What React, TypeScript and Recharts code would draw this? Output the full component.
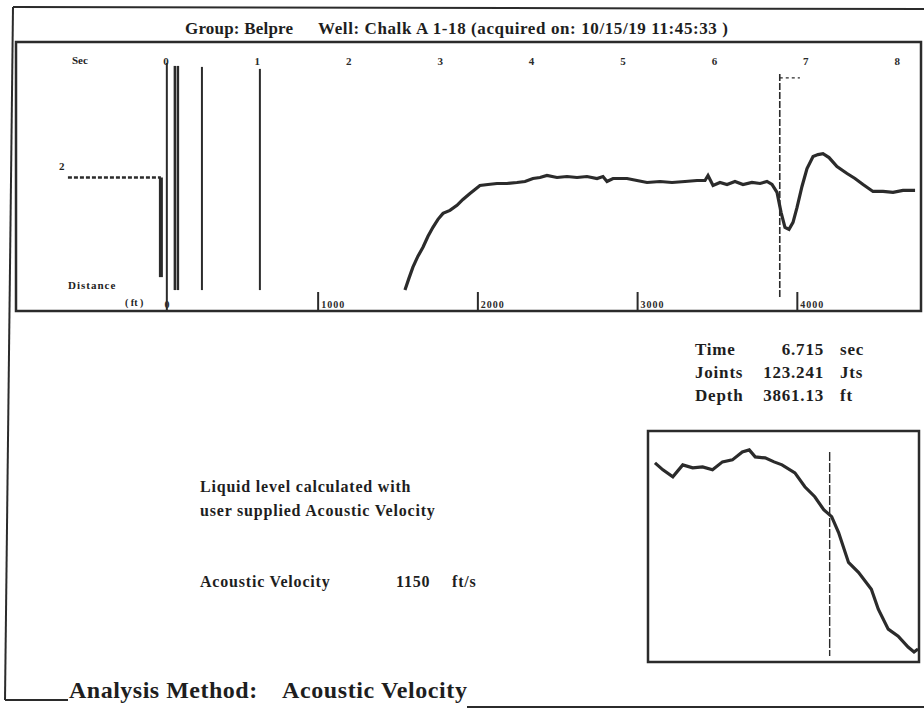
import React from 'react';
import { LineChart, Line, XAxis, YAxis, ReferenceLine } from 'recharts';

// acoustic trace (time in sec, amplitude in arbitrary units)
const traceTime = [
  2.615, 2.659, 2.702, 2.757, 2.812, 2.867, 2.921, 2.976, 3.031, 3.107, 3.184, 3.249, 3.326, 3.381, 3.435,
  3.523, 3.621, 3.731, 3.84, 3.928, 4.015, 4.092, 4.168, 4.278, 4.387, 4.497, 4.606, 4.716, 4.781, 4.825,
  4.891, 5.044, 5.153, 5.263, 5.405, 5.536, 5.678, 5.81, 5.897, 5.93, 5.985, 6.061, 6.138, 6.225, 6.313,
  6.411, 6.499, 6.575, 6.63, 6.685, 6.729, 6.772, 6.816, 6.86, 6.904, 6.958, 7.013, 7.079, 7.133, 7.188,
  7.254, 7.341, 7.451, 7.538, 7.626, 7.735, 7.845, 7.954, 8.063, 8.195,
];
const traceAmp = [
  21, 33, 44, 55, 64, 75, 84, 92, 98, 101, 106, 112, 118, 122, 126,
  127, 128, 128, 129, 130, 133, 134, 136, 134, 135, 134, 135, 133, 135, 130,
  133, 133, 131, 129, 130, 129, 130, 131, 131, 136, 126, 129, 127, 130, 127,
  129, 128, 130, 127, 119, 99, 84, 82, 89, 104, 125, 143, 155, 157, 158,
  154, 145, 138, 133, 127, 120, 120, 119, 121, 121,
];

// zoomed window around the liquid level (sample index, amplitude)
const zoomSample = [
  5, 13, 23, 33, 43, 53, 63, 73, 83, 93, 100, 106, 116, 125, 133, 146, 156, 166, 175, 183,
  190, 200, 210, 223, 230, 240, 250, 260, 266, 270,
];
const zoomAmp = [
  199, 192, 185, 197, 194, 195, 192, 200, 202, 210, 212, 205, 204, 200, 197, 189, 175, 165, 152, 145,
  129, 99, 89, 72, 52, 32, 25, 14, 9, 12,
];
const zoomMarker = 181;

const timeTicks = [0, 1, 2, 3, 4, 5, 6, 7, 8];
const depthTicks = [0, 1000, 2000, 3000, 4000];
// depth scale printed under the trace: ft per second of travel time and its zero offset
const ftPerSec = 572.3;
const depthOffset = 47;

// shot / collar marks near the start of the record: [time, top amp, bottom amp, width]
const shotMarks: [number, number, number, number][] = [
  [0.01, 249, 0, 2],
  [-0.055, 134, 34, 4],
  [0.098, 246, 21, 2.5],
  [0.131, 246, 21, 2.5],
  [0.394, 245, 21, 2],
  [1.028, 243, 21, 2],
];
const baseLevel = { from: -1.072, to: -0.055, amp: 134 };

const liquidTime = 6.715;
const joints = 123.241;
const depth = 3861.13;
const velocity = 1150;

const ink = '#2b2b2b';
const serif = '"Liberation Serif", "Times New Roman", serif';

const traceData = traceTime.map((t, i) => ({ t, a: traceAmp[i] }));
const zoomData = zoomSample.map((s, i) => ({ s, a: zoomAmp[i] }));
const depthTickTimes = depthTicks.map((d) => (d - depthOffset) / ftPerSec);

const TimeTick = (props: any) => (
  <text x={props.x} y={23} textAnchor="middle" fontSize={11} fontWeight="bold" fill={ink} fontFamily={serif}>
    {props.payload.value}
  </text>
);

const DepthTick = (props: any) => {
  const v = Math.round((props.payload.value * ftPerSec + depthOffset) / 100) * 100;
  if (v === 0) {
    return (
      <text x={props.x + 6} y={266} fontSize={10} fontWeight="bold" fill={ink} fontFamily={serif}>0</text>
    );
  }
  return (
    <g>
      <line x1={props.x} x2={props.x} y1={250} y2={269} stroke={ink} strokeWidth={2} />
      <text x={props.x + 3} y={266} fontSize={10} fontWeight="bold" letterSpacing={1} fill={ink} fontFamily={serif}>
        {v}
      </text>
    </g>
  );
};

const Txt = ({ x, y, size = 15, weight = 'bold', anchor = 'left', children, spacing = 0 }: any) => (
  <div
    style={{
      position: 'absolute',
      top: y - size / 2,
      ...(anchor === 'right' ? { right: 924 - x } : { left: x }),
      fontSize: size,
      lineHeight: `${size}px`,
      fontWeight: weight,
      fontFamily: serif,
      color: '#1e1e1e',
      whiteSpace: 'nowrap',
      letterSpacing: spacing,
    }}
  >
    {children}
  </div>
);

export default function App() {
  return (
    <div style={{ position: 'absolute', left: 0, top: 0, width: 924, height: 712, background: '#fff', overflow: 'hidden' }}>
      {/* frame lines */}
      <svg width={924} height={712} style={{ position: 'absolute', left: 0, top: 0 }}>
        <line x1={13} y1={7} x2={924} y2={9} stroke={ink} strokeWidth={2} />
        <line x1={13} y1={7} x2={5} y2={700} stroke={ink} strokeWidth={2} />
        <line x1={5} y1={700} x2={68} y2={700} stroke={ink} strokeWidth={2} />
        <line x1={467} y1={707} x2={924} y2={707} stroke={ink} strokeWidth={2} />
        <rect x={16} y={42} width={905} height={269} fill="none" stroke={ink} strokeWidth={2.5} />
        <rect x={648} y={431} width={271} height={231} fill="none" stroke={ink} strokeWidth={2.5} />
      </svg>

      <Txt x={185} y={28} size={17} spacing={0.2}>Group: Belpre</Txt>
      <Txt x={318} y={28} size={17} spacing={0.6}>Well: Chalk A 1-18 (acquired on: 10/15/19 11:45:33 )</Txt>

      <div style={{ position: 'absolute', left: 16, top: 42 }}>
        <LineChart width={905} height={270} data={traceData} margin={{ top: 0, right: 0, bottom: 0, left: 0 }}>
          <XAxis
            xAxisId="time"
            dataKey="t"
            type="number"
            orientation="top"
            domain={[-1.64, 8.26]}
            allowDataOverflow
            ticks={timeTicks}
            height={1}
            axisLine={false}
            tickLine={false}
            tick={<TimeTick />}
          />
          <XAxis
            xAxisId="depth"
            dataKey="t"
            type="number"
            orientation="bottom"
            domain={[-1.64, 8.26]}
            allowDataOverflow
            ticks={depthTickTimes}
            height={1}
            axisLine={false}
            tickLine={false}
            tick={<DepthTick />}
          />
          <YAxis type="number" domain={[0, 269]} hide />
          {shotMarks.map(([t, top, bottom, w], i) => (
            <ReferenceLine
              key={i}
              xAxisId="time"
              segment={[{ x: t, y: top }, { x: t, y: bottom }]}
              stroke={ink}
              strokeWidth={w}
            />
          ))}
          <ReferenceLine
            xAxisId="time"
            segment={[{ x: baseLevel.from, y: baseLevel.amp }, { x: baseLevel.to, y: baseLevel.amp }]}
            stroke={ink}
            strokeWidth={2.5}
            strokeDasharray="4 2"
          />
          <ReferenceLine
            xAxisId="time"
            segment={[{ x: liquidTime, y: 238 }, { x: liquidTime, y: 13 }]}
            stroke={ink}
            strokeWidth={1.6}
            strokeDasharray="7 2"
          />
          <ReferenceLine
            xAxisId="time"
            segment={[{ x: liquidTime, y: 234 }, { x: liquidTime + 0.22, y: 234 }]}
            stroke={ink}
            strokeWidth={1.2}
            strokeDasharray="3 3"
          />
          <Line
            xAxisId="time"
            type="linear"
            dataKey="a"
            stroke={ink}
            strokeWidth={3.2}
            dot={false}
            isAnimationActive={false}
          />
        </LineChart>
      </div>

      {/* small axis captions of the trace panel */}
      <Txt x={72} y={60} size={11}>Sec</Txt>
      <Txt x={68} y={285} size={11} spacing={1}>Distance</Txt>
      <Txt x={125} y={303} size={10}>( ft )</Txt>
      <Txt x={59} y={166} size={11}>2</Txt>

      <Txt x={695} y={349} size={17} spacing={0.8}>Time</Txt>
      <Txt x={824} y={349} size={17} spacing={0.8} anchor="right">{liquidTime.toFixed(3)}</Txt>
      <Txt x={840} y={349} size={17} spacing={0.8}>sec</Txt>
      <Txt x={695} y={372} size={17} spacing={0.8}>Joints</Txt>
      <Txt x={824} y={372} size={17} spacing={0.8} anchor="right">{joints.toFixed(3)}</Txt>
      <Txt x={840} y={372} size={17} spacing={0.8}>Jts</Txt>
      <Txt x={695} y={395} size={17} spacing={0.8}>Depth</Txt>
      <Txt x={824} y={395} size={17} spacing={0.8} anchor="right">{depth.toFixed(2)}</Txt>
      <Txt x={840} y={395} size={17} spacing={0.8}>ft</Txt>

      <Txt x={200} y={487} size={16} spacing={0.8}>Liquid level calculated with</Txt>
      <Txt x={200} y={511} size={16} spacing={0.8}>user supplied Acoustic Velocity</Txt>
      <Txt x={200} y={582} size={16} spacing={0.8}>Acoustic Velocity</Txt>
      <Txt x={396} y={582} size={16} spacing={0.8}>{velocity}</Txt>
      <Txt x={452} y={582} size={16} spacing={0.8}>ft/s</Txt>

      <div style={{ position: 'absolute', left: 649, top: 433 }}>
        <LineChart width={270} height={228} data={zoomData} margin={{ top: 0, right: 0, bottom: 0, left: 0 }}>
          <XAxis dataKey="s" type="number" domain={[-1, 271]} hide />
          <YAxis type="number" domain={[0, 229]} hide />
          <ReferenceLine
            segment={[{ x: zoomMarker, y: 210 }, { x: zoomMarker, y: 5 }]}
            stroke={ink}
            strokeWidth={1.4}
            strokeDasharray="9 2"
          />
          <Line type="linear" dataKey="a" stroke={ink} strokeWidth={3.2} dot={false} isAnimationActive={false} />
        </LineChart>
      </div>

      <Txt x={69} y={690} size={24} spacing={0.5}>Analysis Method:</Txt>
      <Txt x={282} y={690} size={24} spacing={0.6}>Acoustic Velocity</Txt>
    </div>
  );
}
